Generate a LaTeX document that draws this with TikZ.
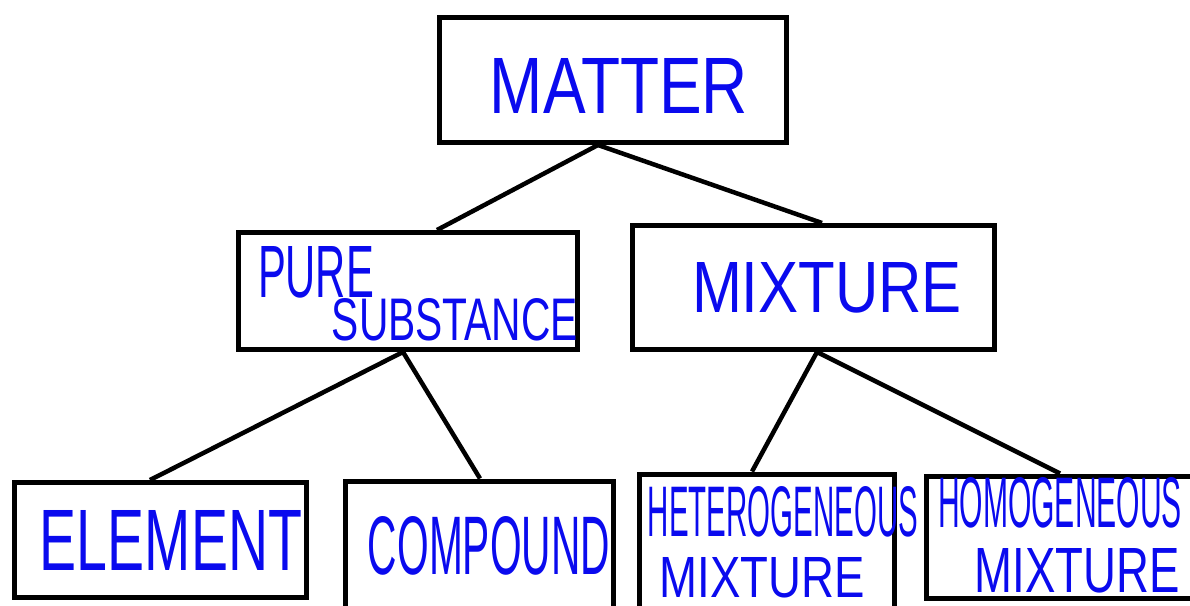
\documentclass[tikz,border=0pt]{standalone}
\usepackage{fontspec}
\usepackage{graphicx}
\setmainfont{Liberation Sans}
\usetikzlibrary{calc}
\definecolor{ink}{RGB}{10,10,238}
\tikzset{
  box/.style={draw=black, line width=5pt, rectangle, inner sep=0pt},
  lbl/.style={text=ink, inner sep=0pt, anchor=center},
  link/.style={draw=black, line width=4.5pt}
}
\newcommand{\fitlbl}[3]{\resizebox{#1pt}{#2pt}{#3}}
\begin{document}
\begin{tikzpicture}[x=1pt,y=-1pt]
\useasboundingbox (0,0) rectangle (1190,605);
\begin{scope}
\clip (0,0) rectangle (1190,605);
% boxes
\node[box, minimum width=347pt, minimum height=125pt] (matter) at (613,80) {};
\node[box, minimum width=339pt, minimum height=117pt] (pure) at (408,291) {};
\node[box, minimum width=362pt, minimum height=124pt] (mixture) at (813.5,287.5) {};
\node[box, minimum width=292pt, minimum height=115pt] (element) at (160.5,540) {};
\node[box, minimum width=268pt, minimum height=134pt] (compound) at (479.5,548) {};
\node[box, minimum width=255pt, minimum height=146pt] (hetero) at (767,547) {};
\node[box, minimum width=271pt, minimum height=122pt] (homo) at (1062,537) {};
% labels
\node[lbl] (tmatter) at (619,86) {\fitlbl{258}{55}{MATTER}};
\node[lbl] (tpure) at (316,272.5) {\fitlbl{116}{51}{PURE}};
\node[lbl] (tsubst) at (455,320) {\fitlbl{246}{42}{SUBSTANCE}};
\node[lbl] (tmix) at (827,288) {\fitlbl{270}{50}{MIXTURE}};
\node[lbl] (telement) at (171,540) {\fitlbl{262}{60}{ELEMENT}};
\node[lbl] (tcompound) at (489,546) {\fitlbl{242}{58}{COMPOUND}};
\node[lbl] (thetero) at (783,512) {\fitlbl{270}{50}{HETEROGENEOUS}};
\node[lbl] (thetmix) at (762,578) {\fitlbl{205}{40}{MIXTURE}};
\node[lbl] (thomo) at (1060,503) {\fitlbl{244}{50}{HOMOGENEOUS}};
\node[lbl] (thommix) at (1077,571) {\fitlbl{205}{44}{MIXTURE}};
% connectors
\draw[link] ($(matter.south)+(-15,0)$) -- ($(pure.north)+(29,0)$);
\draw[link] ($(matter.south)+(-15,0)$) -- ($(mixture.north)+(8.5,0)$);
\draw[link] ($(pure.south)+(-5,0)$) -- ($(element.north)+(-10.5,0)$);
\draw[link] ($(pure.south)+(-5,0)$) -- ($(compound.north)+(0.5,0)$);
\draw[link] ($(mixture.south)+(3.5,0)$) -- ($(hetero.north)+(-15,0)$);
\draw[link] ($(mixture.south)+(3.5,0)$) -- ($(homo.north)+(-2,0)$);
\end{scope}
\end{tikzpicture}
\end{document}
